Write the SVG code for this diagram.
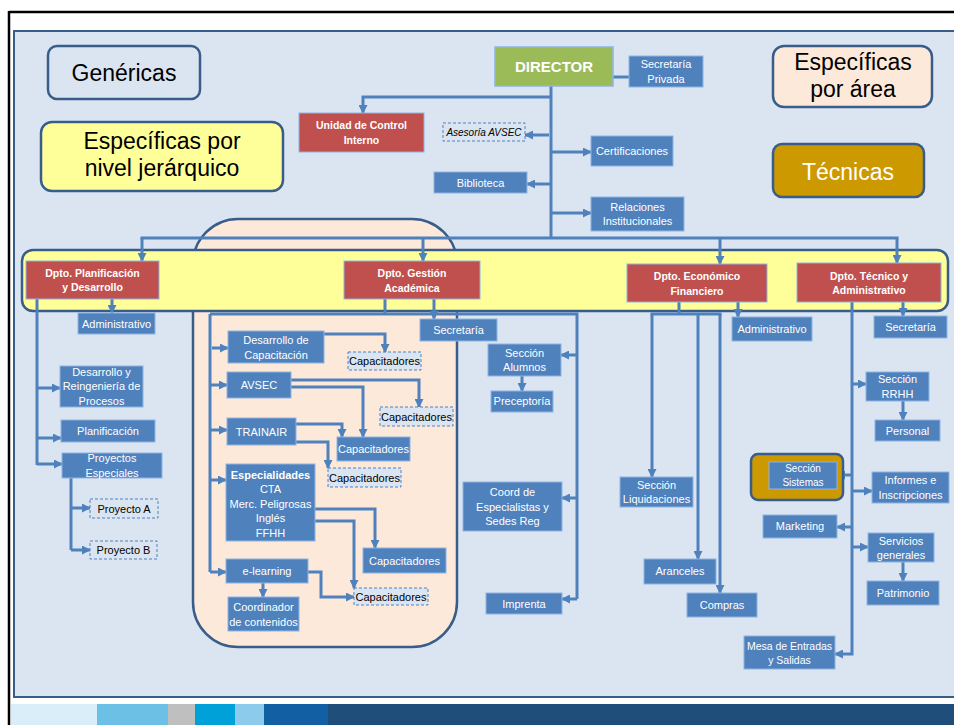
<svg xmlns="http://www.w3.org/2000/svg" width="954" height="725" viewBox="0 0 954 725">
<defs>
<marker id="ah" markerUnits="userSpaceOnUse" markerWidth="9" markerHeight="9" refX="8" refY="4.5" orient="auto">
<path d="M0,0 L9,4.5 L0,9 z" fill="#4f81bd"/>
</marker>
<style>
.n rect{fill:#4f81bd;stroke:#8eb4e3;stroke-width:1}
.r rect{fill:#c0504d;stroke:#8eb4e3;stroke-width:1}
.d rect{fill:#dbe5f1;stroke:#4f81bd;stroke-width:1;stroke-dasharray:3 2}
text{font-family:"Liberation Sans",Arial,sans-serif;text-anchor:middle}
.n text{fill:#ffffff;font-size:11px}
.r text{fill:#ffffff;font-size:10.5px;font-weight:bold}
.d text{fill:#000000;font-size:11px}
.lg text{font-size:23px;fill:#000000}
.c path{fill:none;stroke:#4f81bd;stroke-width:3}
.c .a{marker-end:url(#ah)}
</style>
</defs>
<rect x="0" y="0" width="954" height="725" fill="#ffffff"/>
<line x1="9" y1="12" x2="954" y2="12" stroke="#000" stroke-width="2.5"/>
<line x1="9" y1="11" x2="9" y2="725" stroke="#000" stroke-width="2.5"/>
<rect x="14" y="31" width="950" height="666" fill="#dbe5f1" stroke="#385d8a" stroke-width="2"/>
<g id="strip">
<rect x="11" y="704" width="86" height="21" fill="#d9eef8"/>
<rect x="97" y="704" width="71" height="21" fill="#6dc0e5"/>
<rect x="168" y="704" width="27" height="21" fill="#bfbfbf"/>
<rect x="195" y="704" width="40" height="21" fill="#00a0d8"/>
<rect x="235" y="704" width="29" height="21" fill="#8ccbeb"/>
<rect x="264" y="704" width="64" height="21" fill="#135fa3"/>
<rect x="328" y="704" width="626" height="21" fill="#1f4e7a"/>
</g>

<g id="legend-genericas" class="lg"><rect x="48" y="46" width="152" height="53" rx="9" fill="#dbe5f1" stroke="#385d8a" stroke-width="2.5"/><text x="124" y="81">Genéricas</text></g>
<g id="legend-nivel" class="lg"><rect x="41" y="122" width="242" height="69" rx="11" fill="#ffff99" stroke="#385d8a" stroke-width="2.5"/><text x="162" y="149">Específicas por</text><text x="162" y="176">nivel jerárquico</text></g>
<g id="legend-area" class="lg"><rect x="773" y="46" width="159" height="61" rx="11" fill="#fde9d9" stroke="#385d8a" stroke-width="2.5"/><text x="853" y="70">Específicas</text><text x="853" y="97">por área</text></g>
<g id="legend-tecnicas" class="lg"><rect x="773" y="144" width="151" height="53" rx="9" fill="#cc9900" stroke="#385d8a" stroke-width="2.5"/><text x="848" y="180" style="fill:#ffffff">Técnicas</text></g>

<g id="area-academica"><rect x="193" y="219" width="264" height="428" rx="45" fill="#fde9d9" stroke="#385d8a" stroke-width="2.5"/></g>
<g id="banda-departamentos"><rect x="22" y="250" width="926" height="61" rx="11" fill="#ffff99" stroke="#385d8a" stroke-width="2.5"/></g>

<g id="connectors" class="c">
<path d="M613,77 H629"/>
<path d="M551,86 V238"/>
<path class="a" d="M551,97 H363 V113"/>
<path class="a" d="M549,135 H525"/>
<path class="a" d="M551,184 H527"/>
<path class="a" d="M551,152 H591"/>
<path class="a" d="M551,213 H591"/>
<path d="M140.5,238 H898.5"/>
<path class="a" d="M142,238 V261"/>
<path class="a" d="M423,238 V261"/>
<path class="a" d="M720,238 V264"/>
<path class="a" d="M897,238 V263"/>
<path class="a" d="M112,299 V313"/>
<path d="M37,299 V465"/>
<path class="a" d="M37,388 H60"/>
<path class="a" d="M37,438 H61"/>
<path class="a" d="M37,464 H62"/>
<path d="M71,478 V550"/>
<path class="a" d="M71,508 H90"/>
<path class="a" d="M71,550 H90"/>
<path d="M385,299 V314"/>
<path d="M210,314 H577 V599"/>
<path class="a" d="M577,355 H561"/>
<path class="a" d="M577,498 H562"/>
<path class="a" d="M577,599 H562"/>
<path class="a" d="M434,299 V319"/>
<path d="M210,314 V572"/>
<path class="a" d="M212,348 H228"/>
<path class="a" d="M210,385 H227"/>
<path class="a" d="M210,430 H227"/>
<path class="a" d="M210,480 H226"/>
<path class="a" d="M210,572 H226"/>
<path class="a" d="M324,334 H385 V352"/>
<path class="a" d="M291,380 H419 V407"/>
<path class="a" d="M291,387 H363 V437"/>
<path class="a" d="M296,424 H342 V437"/>
<path class="a" d="M296,442 H328 V468"/>
<path class="a" d="M315,509 H375 V548"/>
<path class="a" d="M315,521 H354 V588"/>
<path class="a" d="M308,572 H321 V597 H354"/>
<path class="a" d="M263,583 V597"/>
<path class="a" d="M522,376 V391"/>
<path d="M679,302 V314"/>
<path d="M650.5,314 H721.5"/>
<path class="a" d="M652,314 V477"/>
<path class="a" d="M698,314 V559"/>
<path class="a" d="M720,314 V593"/>
<path class="a" d="M738,302 V317"/>
<path class="a" d="M903,302 V316"/>
<path class="a" d="M852,302 V654 H835"/>
<path class="a" d="M852,384 H866"/>
<path class="a" d="M852,475 H837"/>
<path class="a" d="M852,491 H872"/>
<path class="a" d="M852,527 H837"/>
<path class="a" d="M852,547 H868"/>
<path class="a" d="M903,401 V420"/>
<path class="a" d="M903,562 V581"/>
</g>

<g id="director"><rect x="495" y="47" width="118" height="39" fill="#9bbb59" stroke="#8eb4e3" stroke-width="1.5"/><text x="554" y="72" style="fill:#fff;font-size:15px;font-weight:bold">DIRECTOR</text></g>
<g id="secretaria-privada" class="n"><rect x="629" y="56" width="74" height="31"/><text x="666" y="68">Secretaría</text><text x="666" y="83">Privada</text></g>
<g id="unidad-control" class="r"><rect x="299" y="113" width="125" height="39"/><text x="361.5" y="129">Unidad de Control</text><text x="361.5" y="144">Interno</text></g>
<g id="asesoria-avsec" class="d"><rect x="443" y="123" width="82" height="18"/><text x="484" y="135.5" style="font-size:10px;font-style:italic">Asesoría AVSEC</text></g>
<g id="biblioteca" class="n"><rect x="434" y="172" width="93" height="21"/><text x="480.5" y="186.5">Biblioteca</text></g>
<g id="certificaciones" class="n"><rect x="591" y="136" width="82" height="30"/><text x="632" y="155">Certificaciones</text></g>
<g id="relaciones" class="n"><rect x="591" y="197" width="93" height="34"/><text x="637.5" y="211">Relaciones</text><text x="637.5" y="225">Institucionales</text></g>

<g id="dpto-planificacion" class="r"><rect x="26" y="261" width="133" height="38"/><text x="92.5" y="277">Dpto. Planificación</text><text x="92.5" y="291">y Desarrollo</text></g>
<g id="dpto-gestion" class="r"><rect x="344" y="261" width="136" height="38"/><text x="412" y="277">Dpto. Gestión</text><text x="412" y="292">Académica</text></g>
<g id="dpto-economico" class="r"><rect x="627" y="264" width="140" height="38"/><text x="697" y="280">Dpto. Económico</text><text x="697" y="295">Financiero</text></g>
<g id="dpto-tecnico" class="r"><rect x="797" y="263" width="144" height="39"/><text x="869" y="280">Dpto. Técnico y</text><text x="869" y="294">Administrativo</text></g>

<g id="administrativo-planif" class="n"><rect x="78" y="313" width="77" height="21"/><text x="116.5" y="328">Administrativo</text></g>
<g id="desarrollo-reingenieria" class="n"><rect x="60" y="366" width="83" height="41"/><text x="101.5" y="376">Desarrollo y</text><text x="101.5" y="390">Reingeniería de</text><text x="101.5" y="405">Procesos</text></g>
<g id="planificacion" class="n"><rect x="61" y="420" width="94" height="22"/><text x="108" y="435">Planificación</text></g>
<g id="proyectos-especiales" class="n"><rect x="62" y="453" width="100" height="25"/><text x="112" y="462">Proyectos</text><text x="112" y="477">Especiales</text></g>
<g id="proyecto-a" class="d"><rect x="90" y="499" width="68" height="19"/><text x="124" y="513">Proyecto A</text></g>
<g id="proyecto-b" class="d"><rect x="90" y="541" width="67" height="18"/><text x="123.5" y="554">Proyecto B</text></g>

<g id="desarrollo-capacitacion" class="n"><rect x="228" y="331" width="96" height="32"/><text x="276" y="344">Desarrollo de</text><text x="276" y="359">Capacitación</text></g>
<g id="capacitadores-1" class="d"><rect x="348" y="352" width="73" height="18"/><text x="384.5" y="365">Capacitadores</text></g>
<g id="avsec" class="n"><rect x="227" y="372" width="64" height="26"/><text x="259" y="389">AVSEC</text></g>
<g id="capacitadores-2" class="d"><rect x="380" y="407" width="73" height="19"/><text x="416.5" y="421">Capacitadores</text></g>
<g id="capacitadores-3" class="n"><rect x="337" y="437" width="73" height="24"/><text x="373.5" y="453">Capacitadores</text></g>
<g id="trainair" class="n"><rect x="227" y="418" width="69" height="27"/><text x="261.5" y="436">TRAINAIR</text></g>
<g id="capacitadores-4" class="d"><rect x="328" y="468" width="73" height="19"/><text x="364.5" y="482">Capacitadores</text></g>
<g id="especialidades" class="n"><rect x="226" y="464" width="89" height="77"/><text x="270.5" y="479" style="font-weight:bold">Especialidades</text><text x="270.5" y="493">CTA</text><text x="270.5" y="508">Merc. Peligrosas</text><text x="270.5" y="522">Inglés</text><text x="270.5" y="537">FFHH</text></g>
<g id="capacitadores-5" class="n"><rect x="363" y="548" width="83" height="25"/><text x="404.5" y="565">Capacitadores</text></g>
<g id="capacitadores-6" class="d"><rect x="354" y="588" width="74" height="17"/><text x="391" y="601">Capacitadores</text></g>
<g id="e-learning" class="n"><rect x="226" y="559" width="82" height="24"/><text x="267" y="575">e-learning</text></g>
<g id="coordinador-contenidos" class="n"><rect x="228" y="597" width="71" height="34"/><text x="263.5" y="611">Coordinador</text><text x="263.5" y="626">de contenidos</text></g>

<g id="secretaria-gestion" class="n"><rect x="420" y="319" width="77" height="22"/><text x="458.5" y="334">Secretaría</text></g>
<g id="seccion-alumnos" class="n"><rect x="488" y="344" width="73" height="32"/><text x="524.5" y="357">Sección</text><text x="524.5" y="371">Alumnos</text></g>
<g id="preceptoria" class="n"><rect x="491" y="391" width="62" height="21"/><text x="522" y="405">Preceptoría</text></g>
<g id="coord-especialistas" class="n"><rect x="463" y="482" width="99" height="49"/><text x="512.5" y="496">Coord de</text><text x="512.5" y="511">Especialistas y</text><text x="512.5" y="525">Sedes Reg</text></g>
<g id="imprenta" class="n"><rect x="486" y="593" width="76" height="21"/><text x="524" y="608">Imprenta</text></g>

<g id="seccion-liquidaciones" class="n"><rect x="620" y="477" width="73" height="30"/><text x="656.5" y="489">Sección</text><text x="656.5" y="503">Liquidaciones</text></g>
<g id="aranceles" class="n"><rect x="644" y="559" width="72" height="25"/><text x="680" y="575">Aranceles</text></g>
<g id="compras" class="n"><rect x="687" y="593" width="70" height="24"/><text x="722" y="609">Compras</text></g>
<g id="administrativo-econ" class="n"><rect x="732" y="317" width="80" height="24"/><text x="772" y="333">Administrativo</text></g>

<g id="secretaria-tecnico" class="n"><rect x="874" y="316" width="73" height="22"/><text x="910.5" y="331">Secretaría</text></g>
<g id="seccion-rrhh" class="n"><rect x="866" y="372" width="63" height="29"/><text x="897.5" y="383">Sección</text><text x="897.5" y="398">RRHH</text></g>
<g id="personal" class="n"><rect x="875" y="420" width="65" height="21"/><text x="907.5" y="435">Personal</text></g>
<g id="seccion-sistemas"><rect x="751" y="454" width="92" height="46" rx="7" fill="#cc9900" stroke="#385d8a" stroke-width="2.5"/><g class="n"><rect x="769" y="462" width="68" height="27"/><text x="803" y="472" style="font-size:10px">Sección</text><text x="803" y="486" style="font-size:10px">Sistemas</text></g></g>
<g id="informes" class="n"><rect x="872" y="472" width="77" height="31"/><text x="910.5" y="484">Informes e</text><text x="910.5" y="499">Inscripciones</text></g>
<g id="marketing" class="n"><rect x="763" y="515" width="74" height="23"/><text x="800" y="530">Marketing</text></g>
<g id="servicios-generales" class="n"><rect x="868" y="533" width="66" height="29"/><text x="901" y="545">Servicios</text><text x="901" y="559">generales</text></g>
<g id="patrimonio" class="n"><rect x="867" y="581" width="72" height="24"/><text x="903" y="597">Patrimonio</text></g>
<g id="mesa-entradas" class="n"><rect x="744" y="636" width="91" height="33"/><text x="789.5" y="650" style="font-size:10.5px">Mesa de Entradas</text><text x="789.5" y="664" style="font-size:10.5px">y Salidas</text></g>
</svg>
